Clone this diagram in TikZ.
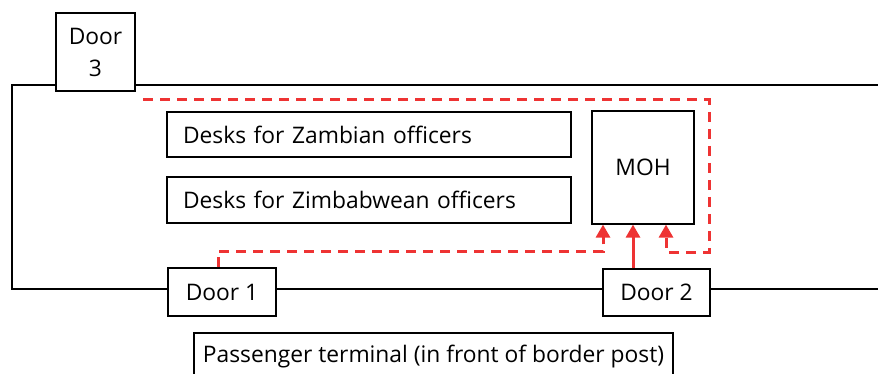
\documentclass[tikz,border=0pt]{standalone}
\usepackage{fontspec}
\setmainfont{Open Sans}
\usetikzlibrary{arrows.meta}
\definecolor{rd}{HTML}{EE3333}
\begin{document}
\begin{tikzpicture}[x=1pt,y=-1pt,
  box/.style={draw=black, line width=1.2pt, fill=white, inner sep=0pt},
  lbl/.style={font=\fontsize{22.8}{32}\selectfont},
  wall/.style={draw=black, line width=1.2pt},
  route/.style={draw=rd, line width=3pt, dash pattern=on 10pt off 7pt},
  walk/.style={draw=rd, line width=3pt},
  tip/.style={-{Triangle[length=13pt,width=14pt]}}]
\useasboundingbox (0,0) rectangle (878,374);
% building outline
\coordinate (tr) at (878,85);
\coordinate (tl) at (12,85);
\coordinate (bl) at (12,289);
\coordinate (br) at (878,289);
\draw[wall] (tr) -- (tl) -- (bl) -- (br);
% boxes
\node[box, lbl, minimum width=79, minimum height=78, align=center] (d3) at (95.5,52) {Door\\3};
\node[box, lbl, minimum width=108, minimum height=48] (d1) at (222,292) {Door 1};
\node[box, lbl, minimum width=107, minimum height=47] (d2) at (656.5,292.5) {Door 2};
\node[box, lbl, minimum width=102, minimum height=113] (moh) at (643,167.5) {MOH};
\node[box, lbl, minimum width=404, minimum height=45, text width=372, inner xsep=16pt, align=left] (zam) at (369,134.5) {Desks for Zambian officers};
\node[box, lbl, minimum width=404, minimum height=46, text width=372, inner xsep=16pt, align=left] (zim) at (369,200) {Desks for Zimbabwean officers};
\node[box, lbl, minimum width=479, minimum height=48] (pt) at (433.5,357) {Passenger terminal (in front of border post)};
% routes
\coordinate (s) at (143,100);
\draw[route, tip] ([xshift=-4pt]d1.north) -- ++(0,-16) -| ([xshift=-40pt]moh.south);
\draw[route, tip] (s) -- (709,100) -- (709,252) -- ([xshift=23pt]moh.south |- 0,252) -- ([xshift=23pt]moh.south);
\draw[walk, tip] ([xshift=-10pt]moh.south |- d2.north) -- ([xshift=-10pt]moh.south);
\end{tikzpicture}
\end{document}
